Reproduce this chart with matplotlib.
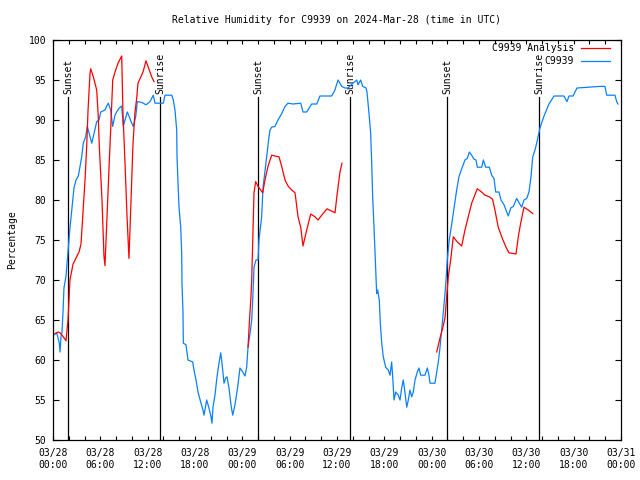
import numpy as np
import matplotlib
matplotlib.use("Agg")
import matplotlib.pyplot as plt
from matplotlib.ticker import MultipleLocator

# hours since 2024-03-28 00:00 UTC
obs_hours = [0.04, 0.47, 0.80, 0.89, 1.01, 1.14, 1.27, 1.39, 1.65, 1.90, 2.15, 2.41, 2.66, 2.92,
             3.21, 3.64, 3.84, 4.14, 4.35, 4.69, 4.91, 5.20, 5.54, 5.83, 6.05, 6.59, 6.81, 7.01,
             7.31, 7.57, 7.73, 7.86, 8.07, 8.40, 8.71, 8.91, 9.13, 9.42, 9.67, 9.98, 10.18, 10.48,
             10.69, 11.24, 11.79, 12.30, 12.71, 12.93, 13.98, 14.20, 15.05, 15.25, 15.46, 15.68,
             15.72, 15.84, 15.97, 16.19, 16.31, 16.35, 16.48, 16.52, 16.86, 17.11, 17.71, 17.87,
             18.13, 18.38, 18.72, 19.01, 19.14, 19.48, 19.77, 20.03, 20.15, 20.28, 20.53, 20.79,
             21.04, 21.26, 21.42, 21.68, 21.89, 22.06, 22.31, 22.56, 22.78, 23.07, 23.41, 23.70,
             24.05, 24.34, 24.55, 24.72, 24.97, 25.19, 25.35, 25.48, 25.73, 25.99, 26.11, 26.45,
             26.62, 27.09, 27.38, 27.51, 27.72, 28.14, 28.52, 28.99, 29.41, 29.79, 30.42, 31.40,
             31.69, 32.16, 32.79, 33.43, 33.84, 35.33, 35.74, 36.13, 36.60, 37.01, 37.39, 38.03,
             38.50, 38.66, 39.00, 39.26, 39.68, 39.80, 40.06, 40.27, 40.40, 40.52, 40.69, 40.82,
             40.94, 41.03, 41.16, 41.36, 41.49, 41.67, 41.87, 42.17, 42.50, 42.72, 42.93, 43.06,
             43.23, 43.44, 43.77, 43.99, 44.20, 44.40, 44.62, 44.84, 45.04, 45.25, 45.47, 45.67,
             45.89, 46.18, 46.39, 46.61, 47.15, 47.45, 47.66, 47.79, 48.42, 48.64, 48.84, 49.06,
             49.27, 49.47, 49.69, 49.82, 49.98, 50.23, 50.54, 50.83, 51.17, 51.46, 51.88, 52.22,
             52.52, 52.77, 53.07, 53.37, 53.62, 53.79, 54.34, 54.55, 54.85, 55.31, 55.61, 55.90,
             56.12, 56.53, 56.79, 57.17, 57.51, 57.71, 58.02, 58.35, 58.78, 59.11, 59.41, 59.70,
             60.05, 60.34, 60.59, 60.81, 61.10, 61.31, 61.57, 61.73, 62.24, 62.87, 63.51, 64.77,
             65.15, 65.41, 65.92, 66.42, 69.34, 69.97, 70.19, 71.24, 71.45, 71.62]
obs_values = [63.1, 63.4, 62.1, 61.0, 62.9, 63.5, 66.0, 69.0, 70.5, 73.5, 76.5, 79.0, 81.5, 82.5,
              83.0, 85.4, 87.1, 87.9, 89.2, 87.9, 87.1, 88.3, 89.8, 90.0, 91.0, 91.25, 91.75, 92.1,
              91.25, 89.2, 90.0, 90.6, 91.0, 91.5, 91.75, 89.2, 90.0, 91.0, 90.4, 89.6, 89.2, 90.4,
              92.3, 92.2, 91.9, 92.3, 93.1, 92.1, 92.1, 93.1, 93.1, 92.5, 91.25, 88.75,
              85.4, 82.5, 79.1, 76.6, 73.4, 69.6, 65.9, 62.1, 61.9, 60.0, 59.75, 58.75,
              57.5, 56.0, 54.75, 53.75, 53.1, 55.0, 54.0, 52.9, 52.1, 54.1, 55.6, 57.9,
              59.6, 60.9, 59.6, 57.1, 57.75, 57.9, 56.5, 54.4, 53.1, 54.4, 56.6, 59.0,
              58.5, 58.0, 59.1, 61.6, 63.3, 65.0, 68.3, 71.6, 72.5, 72.5, 75.0, 77.9,
              81.5, 85.5, 87.9, 88.75, 89.1, 89.2, 90.0, 90.8, 91.7, 92.1, 92.0, 92.1,
              91.0, 91.0, 92.0, 92.0, 93.0, 93.0, 93.75, 95.0, 94.2, 94.0, 94.0, 94.6,
              95.0, 94.4, 95.0, 94.2, 94.0, 93.5, 90.8, 88.3, 84.6, 80.4, 76.6, 73.3,
              70.0, 68.3, 68.75, 67.5, 64.6, 62.1, 60.4, 59.1, 58.75, 58.1, 59.75, 57.9,
              55.0, 56.0, 55.6, 55.0, 56.5, 57.5, 55.9, 54.1, 55.0, 56.25, 55.4, 56.0,
              57.5, 58.5, 59.0, 58.1, 58.1, 59.0, 58.1, 57.1, 57.1, 58.5, 59.75, 61.6,
              63.75, 65.9, 68.3, 70.0, 72.5, 75.0, 77.0, 79.0, 81.25, 82.9, 84.1, 85.0,
              85.2, 86.0, 85.6, 85.1, 85.0, 84.1, 84.1, 85.0, 84.1, 84.1, 83.1, 82.7,
              81.0, 81.0, 80.0, 79.4, 78.5, 78.0, 79.0, 79.2, 80.2, 79.6, 79.1, 80.0,
              80.2, 81.0, 82.9, 85.4, 86.25, 87.1, 88.3, 89.0, 90.5, 92.0, 93.0, 93.0,
              92.3, 93.0, 93.0, 94.0, 94.2, 94.2, 93.1, 93.1, 92.3, 92.0]

ana_hours = [0.25, 0.67, 0.89, 1.23, 1.65, 1.90, 2.15, 2.54, 3.30, 3.55, 4.06, 4.27, 4.44, 4.69,
             4.78, 5.11, 5.54, 5.74, 5.87, 6.21, 6.46, 6.59, 6.85, 7.10, 7.31, 7.57, 7.86, 8.24,
             8.71, 8.87, 9.13, 9.38, 9.63, 9.89, 10.14, 10.39, 10.61, 10.77, 11.41, 11.79, 12.04,
             12.51, 12.80, np.nan,
             24.72, 24.91, 25.10, 25.19, 25.31, 25.48, 25.69, 25.99, 26.58, 26.87, 27.25, 27.72,
             28.14, 28.65, 28.99, 29.41, 29.79, 30.26, 30.68, 31.06, 31.40, 31.69, 32.16, 32.67,
             33.21, 33.59, 34.23, 34.74, 35.75, 36.00, 36.38, 36.63, np.nan,
             48.64, 49.06, 49.40, 49.69, 49.90, 50.11, 50.41, 50.74, 51.25, 51.81, 52.22, 52.64,
             53.07, 53.78, 54.34, 54.76, 55.31, 55.72, 56.02, 56.44, 56.88, 57.42, 57.80, 58.69,
             58.98, 59.28, 59.70, 60.25, 60.81]
ana_values = [63.3, 63.5, 63.4, 63.0, 62.4, 65.0, 70.0, 72.0, 73.5, 74.5, 82.5, 86.7, 91.2, 95.8,
              96.4, 95.4, 93.75, 90.4, 86.7, 80.0, 73.0, 71.8, 78.0, 84.0, 88.75, 95.0, 96.0, 97.1,
              98.0, 90.8, 84.6, 78.0, 72.7, 80.0, 87.0, 91.0, 92.7, 94.6, 96.0, 97.4, 96.7,
              95.4, 94.8, np.nan,
              61.6, 65.0, 68.0, 70.0, 74.6, 80.9, 82.3, 81.7, 80.9, 82.5, 84.2, 85.6,
              85.5, 85.4, 84.2, 82.5, 81.75, 81.25, 80.9, 77.9, 76.6, 74.25, 76.25, 78.25,
              77.9, 77.5, 78.3, 78.9, 78.4, 80.6, 83.5, 84.6, np.nan,
              61.0, 62.75, 64.0, 65.25, 67.9, 70.4, 72.5, 75.4, 74.75, 74.25, 76.25, 77.9,
              79.6, 81.4, 81.0, 80.6, 80.4, 80.1, 78.75, 76.6, 75.4, 74.1, 73.4, 73.25,
              75.4, 77.1, 79.1, 78.75, 78.3]

sun_hours = [1.95, 13.62, 26.0, 37.65, 49.97, 61.63]
sun_labels = ["Sunset", "Sunrise", "Sunset", "Sunrise", "Sunset", "Sunrise"]

tick_hours = list(range(0, 73, 6))
tick_labels = ["03/28\n00:00", "03/28\n06:00", "03/28\n12:00", "03/28\n18:00",
               "03/29\n00:00", "03/29\n06:00", "03/29\n12:00", "03/29\n18:00",
               "03/30\n00:00", "03/30\n06:00", "03/30\n12:00", "03/30\n18:00",
               "03/31\n00:00"]

plt.rcParams['font.family'] = ['DejaVu Sans Mono']
FS = 7

fig = plt.figure(figsize=(6.4, 4.8), dpi=100)
ax = fig.add_axes([53/640, 1-440/480, (621-53)/640, 400/480])

for h, lab in zip(sun_hours, sun_labels):
    ax.plot([h, h], [50, 92.9], color='black', lw=0.9, zorder=1)
    ax.text(h, 93.3, lab, rotation=90, ha='center', va='bottom', fontsize=FS, zorder=1)

ax.plot(ana_hours, ana_values, color='#ff0000', lw=0.9, label='C9939 Analysis', zorder=3)
ax.plot(obs_hours, obs_values, color='#0a80ff', lw=0.9, label='C9939', zorder=2)

ax.set_xlim(0, 72)
ax.set_ylim(50, 100)
ax.set_xticks(tick_hours)
ax.set_xticklabels(tick_labels, fontsize=FS)
ax.xaxis.set_minor_locator(MultipleLocator(2))
ax.set_yticks(np.arange(50, 101, 5))
ax.set_yticklabels([str(v) for v in range(50, 101, 5)], fontsize=FS)
ax.tick_params(axis='x', which='both', direction='in', top=True, length=3, width=0.8, pad=6)
ax.tick_params(axis='y', which='both', direction='in', right=True, length=4.5, width=0.8, pad=5)
for s in ax.spines.values():
    s.set_linewidth(0.9)

ax.set_ylabel('Percentage', fontsize=FS, labelpad=8)
fig.text(337/640, 1-20/480, 'Relative Humidity for C9939 on 2024-Mar-28 (time in UTC)',
         ha='center', va='center', fontsize=FS)

leg = ax.legend(loc='upper right', frameon=False, fontsize=FS, handlelength=3.0,
                handletextpad=0.7, markerfirst=False, borderaxespad=0, borderpad=0,
                labelspacing=0.35,
                bbox_to_anchor=((610 - 53) / 568, 1 - 3 / 400))
for t in leg.get_texts():
    t.set_ha('right')

fig.savefig('out.png', dpi=100)
